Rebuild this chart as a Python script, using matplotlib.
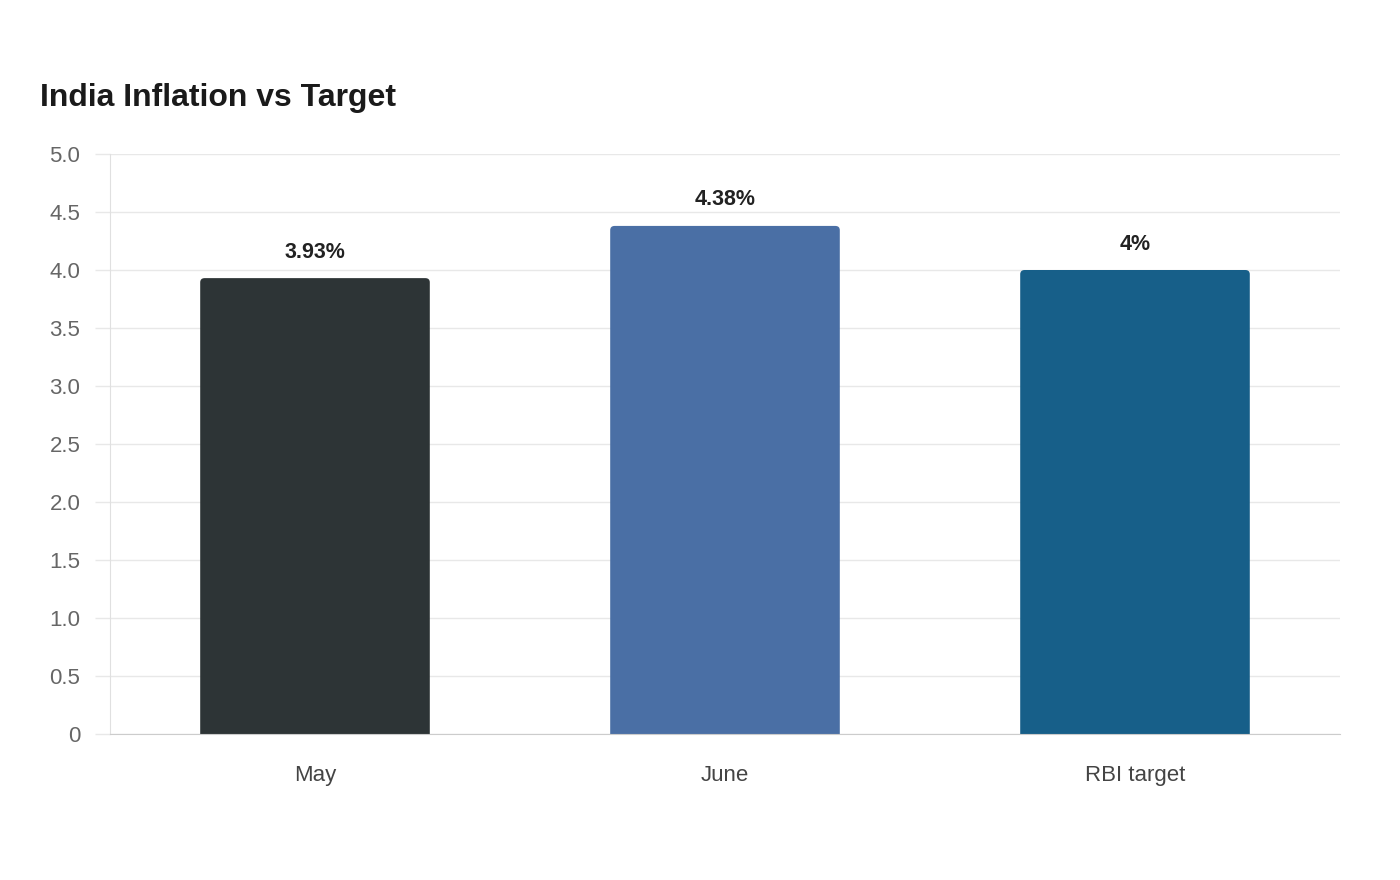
import matplotlib
matplotlib.use("Agg")
from matplotlib import pyplot as plt
from matplotlib.patches import FancyBboxPatch

plt.rcParams['font.family'] = ['Liberation Sans', 'DejaVu Sans']

# data
categories = ["May", "June", "RBI target"]
values = [3.93, 4.38, 4.0]
value_labels = ["3.93%", "4.38%", "4%"]
bar_colors = ["#2d3436", "#4a6fa5", "#175f89"]
y_ticks = [0, 0.5, 1.0, 1.5, 2.0, 2.5, 3.0, 3.5, 4.0, 4.5, 5.0]
y_tick_labels = ["0", "0.5", "1.0", "1.5", "2.0", "2.5", "3.0", "3.5", "4.0", "4.5", "5.0"]

fig = plt.figure(figsize=(14, 8.8), dpi=100)
ax = fig.add_axes([110/1400, 146/880, 1230/1400, 580/880])

x = list(range(len(categories)))
bars = ax.bar(x, values, width=0.56, color=bar_colors, zorder=3)

# swap plain bars for ones with slightly rounded tops
for b, c in zip(bars, bar_colors):
    x0, w, h = b.get_x(), b.get_width(), b.get_height()
    b.remove()
    p = FancyBboxPatch((x0, -0.2), w, h + 0.2,
                       boxstyle="round,pad=0,rounding_size=0.011",
                       mutation_aspect=3.3, facecolor=c, edgecolor="none",
                       zorder=3)
    ax.add_patch(p)

for xi, v, lab in zip(x, values, value_labels):
    ax.annotate(lab, (xi, v), xytext=(0, 26), textcoords="offset pixels",
                ha="center", va="center", fontsize=15.5, fontweight="bold",
                color="#222222", zorder=4)

ax.set_xlim(-0.5, 2.5)
ax.set_ylim(0, 5.0)
ax.set_yticks(y_ticks)
ax.set_yticklabels(y_tick_labels)
ax.set_xticks(x)
ax.set_xticklabels(categories)

ax.grid(axis="y", color="#e8e8e8", linewidth=1, zorder=0)
ax.tick_params(axis="y", length=10.8, color="#e8e8e8", width=1, pad=10.5,
               labelsize=16, labelcolor="#666666")
ax.tick_params(axis="x", length=0, pad=22.5, labelsize=16, labelcolor="#444444")

for s in ["top", "right"]:
    ax.spines[s].set_visible(False)
ax.spines["left"].set_color("#e0e0e0")
ax.spines["bottom"].set_color("#cccccc")
ax.spines["bottom"].set_zorder(5)

fig.text(40/1400, 1 - 98/880, "India Inflation vs Target", ha="left", va="center",
         fontsize=23, fontweight="bold", color="#1a1a1a")

fig.savefig("out.png", dpi=100, facecolor="white")
